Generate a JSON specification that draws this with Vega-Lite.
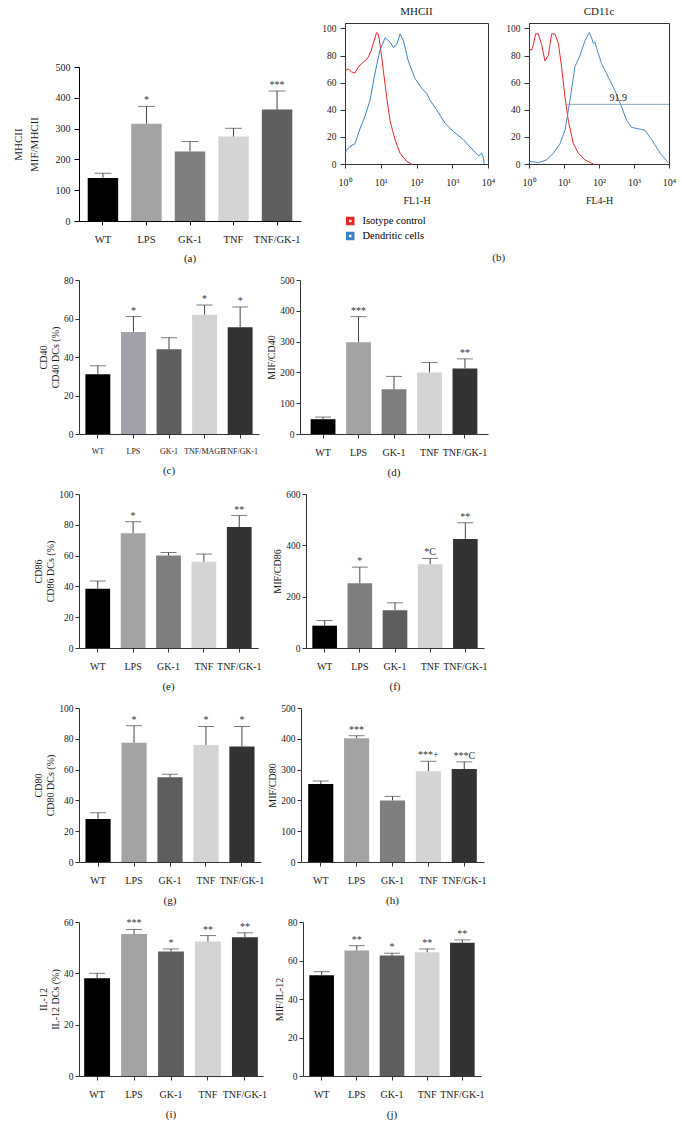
{
"$schema": "https://vega.github.io/schema/vega-lite/v6.json",
"padding": {"left": 12, "top": 5, "right": 5, "bottom": 5},
"datasets": {
"a": [{"g":"WT","v":140,"e":155,"s":""},{"g":"LPS","v":316,"e":372,"s":"*"},{"g":"GK-1","v":226,"e":258,"s":""},{"g":"TNF","v":274,"e":301,"s":""},{"g":"TNF/GK-1","v":362,"e":422,"s":"***"}],
"c": [{"g":"WT","v":31,"e":35.5,"s":""},{"g":"LPS","v":53,"e":61,"s":"*"},{"g":"GK-1","v":44,"e":50,"s":""},{"g":"TNF/MAGE","v":62,"e":67,"s":"*"},{"g":"TNF/GK-1","v":55.5,"e":66,"s":"*"}],
"d": [{"g":"WT","v":48,"e":55,"s":""},{"g":"LPS","v":298,"e":381,"s":"***"},{"g":"GK-1","v":145,"e":187,"s":""},{"g":"TNF","v":200,"e":232,"s":""},{"g":"TNF/GK-1","v":213,"e":244,"s":"**"}],
"e": [{"g":"WT","v":38.5,"e":43.5,"s":""},{"g":"LPS","v":74.5,"e":82,"s":"*"},{"g":"GK-1","v":60,"e":62,"s":""},{"g":"TNF","v":56,"e":61,"s":""},{"g":"TNF/GK-1","v":78.5,"e":86,"s":"**"}],
"f": [{"g":"WT","v":87,"e":107,"s":""},{"g":"LPS","v":252,"e":315,"s":"*"},{"g":"GK-1","v":147,"e":176,"s":""},{"g":"TNF","v":326,"e":349,"s":"*C"},{"g":"TNF/GK-1","v":425,"e":488,"s":"**"}],
"gg": [{"g":"WT","v":28,"e":32,"s":""},{"g":"LPS","v":77.5,"e":88.5,"s":"*"},{"g":"GK-1","v":55,"e":57,"s":""},{"g":"TNF","v":76,"e":88,"s":"*"},{"g":"TNF/GK-1","v":75,"e":88,"s":"*"}],
"h": [{"g":"WT","v":253,"e":263,"s":""},{"g":"LPS","v":402,"e":410,"s":"***"},{"g":"GK-1","v":200,"e":213,"s":""},{"g":"TNF","v":295,"e":327,"s":"***+"},{"g":"TNF/GK-1","v":302,"e":325,"s":"***C"}],
"i": [{"g":"WT","v":38.1,"e":40,"s":""},{"g":"LPS","v":55.3,"e":57.1,"s":"***"},{"g":"GK-1","v":48.5,"e":49.5,"s":"*"},{"g":"TNF","v":52.4,"e":54.7,"s":"**"},{"g":"TNF/GK-1","v":54.1,"e":55.8,"s":"**"}],
"j": [{"g":"WT","v":52.4,"e":54.2,"s":""},{"g":"LPS","v":65.2,"e":67.7,"s":"**"},{"g":"GK-1","v":62.6,"e":63.8,"s":"*"},{"g":"TNF","v":64.3,"e":66,"s":"**"},{"g":"TNF/GK-1","v":69.2,"e":70.7,"s":"**"}],
"hm": [
{"s":"Isotype control","x":1,"y":69},{"s":"Isotype control","x":1.25,"y":70},{"s":"Isotype control","x":1.5,"y":68},{"s":"Isotype control","x":1.9,"y":67},{"s":"Isotype control","x":2.3,"y":71},{"s":"Isotype control","x":2.63,"y":73},{"s":"Isotype control","x":3.24,"y":75},{"s":"Isotype control","x":4,"y":77},{"s":"Isotype control","x":4.5,"y":79},{"s":"Isotype control","x":5.3,"y":83},{"s":"Isotype control","x":6.2,"y":89},{"s":"Isotype control","x":7.7,"y":97},{"s":"Isotype control","x":8.5,"y":96},{"s":"Isotype control","x":9.1,"y":92},{"s":"Isotype control","x":10.5,"y":80},{"s":"Isotype control","x":11.8,"y":69},{"s":"Isotype control","x":14.7,"y":49},{"s":"Isotype control","x":18.2,"y":32},{"s":"Isotype control","x":25,"y":18},{"s":"Isotype control","x":34.6,"y":8},{"s":"Isotype control","x":53,"y":2},{"s":"Isotype control","x":74,"y":0},
{"s":"Dendritic cells","x":1,"y":8},{"s":"Dendritic cells","x":1.1,"y":10},{"s":"Dendritic cells","x":1.38,"y":13},{"s":"Dendritic cells","x":1.9,"y":15},{"s":"Dendritic cells","x":2.63,"y":26},{"s":"Dendritic cells","x":3.6,"y":35},{"s":"Dendritic cells","x":5,"y":47},{"s":"Dendritic cells","x":6.9,"y":67},{"s":"Dendritic cells","x":9.5,"y":84},{"s":"Dendritic cells","x":13.2,"y":93},{"s":"Dendritic cells","x":18.2,"y":90},{"s":"Dendritic cells","x":22.4,"y":86},{"s":"Dendritic cells","x":28,"y":88},{"s":"Dendritic cells","x":34.6,"y":96},{"s":"Dendritic cells","x":43,"y":91},{"s":"Dendritic cells","x":59,"y":76},{"s":"Dendritic cells","x":91,"y":63},{"s":"Dendritic cells","x":139,"y":56},{"s":"Dendritic cells","x":192,"y":52},{"s":"Dendritic cells","x":240,"y":47},{"s":"Dendritic cells","x":365,"y":40},{"s":"Dendritic cells","x":630,"y":30},{"s":"Dendritic cells","x":1070,"y":24},{"s":"Dendritic cells","x":2040,"y":18},{"s":"Dendritic cells","x":3890,"y":10},{"s":"Dendritic cells","x":5500,"y":6},{"s":"Dendritic cells","x":6600,"y":8},{"s":"Dendritic cells","x":7400,"y":5},{"s":"Dendritic cells","x":7800,"y":0}
],
"hc": [
{"s":"Isotype control","x":1,"y":85},{"s":"Isotype control","x":1.19,"y":84},{"s":"Isotype control","x":1.33,"y":88},{"s":"Isotype control","x":1.55,"y":96},{"s":"Isotype control","x":1.85,"y":96},{"s":"Isotype control","x":2.3,"y":88},{"s":"Isotype control","x":2.86,"y":76},{"s":"Isotype control","x":3.57,"y":80},{"s":"Isotype control","x":4.44,"y":96},{"s":"Isotype control","x":5.5,"y":96},{"s":"Isotype control","x":6.9,"y":89},{"s":"Isotype control","x":8.6,"y":71},{"s":"Isotype control","x":10.7,"y":49},{"s":"Isotype control","x":13.3,"y":32},{"s":"Isotype control","x":18.5,"y":15},{"s":"Isotype control","x":25.7,"y":8},{"s":"Isotype control","x":39.8,"y":3},{"s":"Isotype control","x":68.6,"y":0},
{"s":"Dendritic cells","x":1,"y":2},{"s":"Dendritic cells","x":1.85,"y":1},{"s":"Dendritic cells","x":3.2,"y":3},{"s":"Dendritic cells","x":4.95,"y":8},{"s":"Dendritic cells","x":7.7,"y":15},{"s":"Dendritic cells","x":10.7,"y":25},{"s":"Dendritic cells","x":14.8,"y":47},{"s":"Dendritic cells","x":20.6,"y":72},{"s":"Dendritic cells","x":28.6,"y":80},{"s":"Dendritic cells","x":39.8,"y":91},{"s":"Dendritic cells","x":52.8,"y":97},{"s":"Dendritic cells","x":61.6,"y":93},{"s":"Dendritic cells","x":68.6,"y":89},{"s":"Dendritic cells","x":76.6,"y":90},{"s":"Dendritic cells","x":86,"y":85},{"s":"Dendritic cells","x":119,"y":74},{"s":"Dendritic cells","x":185,"y":64},{"s":"Dendritic cells","x":287,"y":54},{"s":"Dendritic cells","x":445,"y":42},{"s":"Dendritic cells","x":620,"y":32},{"s":"Dendritic cells","x":860,"y":27},{"s":"Dendritic cells","x":1330,"y":26},{"s":"Dendritic cells","x":2040,"y":25},{"s":"Dendritic cells","x":3200,"y":18},{"s":"Dendritic cells","x":5560,"y":8},{"s":"Dendritic cells","x":9500,"y":1}
],
"gate": [{"x1":12,"x2":10000,"y":44,"xt":355,"t":"91.9"}]
},
"vconcat": [
{"hconcat": [
 {"vconcat": [
  {"width": 10, "height": 44, "data": {"values": []}, "mark": "point", "encoding": {}},
  {"width": 222, "height": 154, "data": {"name": "a"},
   "title": {"text": "(a)", "orient": "bottom", "offset": 8, "anchor": "middle"},
   "encoding": {"x": {"field": "g", "type": "nominal", "sort": null, "scale": {"paddingInner": 0.3, "paddingOuter": 0.2}, "axis": {"title": null, "labelFontSize": 10.5, "domainColor": "#000", "tickColor": "#000"}}},
   "layer": [
    {"mark": {"type": "bar"}, "encoding": {"y": {"field": "v", "type": "quantitative", "scale": {"domain": [0, 500], "nice": false}, "axis": {"values": [0,100,200,300,400,500], "labelOverlap": false, "title": ["MHCII", "MIF/MHCII"], "titleFontSize": 11, "titleLineHeight": 16, "labelFontSize": 10, "domainColor": "#000", "tickColor": "#000", "titlePadding": 16, "tickSize": 5, "labelPadding": 4}}, "color": {"field": "g", "type": "nominal", "scale": {"domain": ["WT","LPS","GK-1","TNF","TNF/GK-1"], "range": ["#000000","#a3a3a3","#7f7f7f","#d4d4d4","#5f5f5f"]}, "legend": null}}},
    {"mark": {"type": "rule", "color": "#444"}, "encoding": {"y": {"field": "v", "type": "quantitative", "axis": {"values": [0,100,200,300,400,500], "labelOverlap": false, "title": ["MHCII", "MIF/MHCII"], "titleFontSize": 11, "titleLineHeight": 16, "labelFontSize": 10, "domainColor": "#000", "tickColor": "#000", "titlePadding": 16, "tickSize": 5, "labelPadding": 4}}, "y2": {"field": "e"}}},
    {"mark": {"type": "tick", "orient": "horizontal", "size": 17, "thickness": 1, "color": "#444"}, "encoding": {"y": {"field": "e", "type": "quantitative", "axis": {"values": [0,100,200,300,400,500], "labelOverlap": false, "title": ["MHCII", "MIF/MHCII"], "titleFontSize": 11, "titleLineHeight": 16, "labelFontSize": 10, "domainColor": "#000", "tickColor": "#000", "titlePadding": 16, "tickSize": 5, "labelPadding": 4}}}},
    {"mark": {"type": "text", "baseline": "bottom", "dy": -1, "fontSize": 10, "color": "#333"}, "encoding": {"y": {"field": "e", "type": "quantitative", "axis": {"values": [0,100,200,300,400,500], "labelOverlap": false, "title": ["MHCII", "MIF/MHCII"], "titleFontSize": 11, "titleLineHeight": 16, "labelFontSize": 10, "domainColor": "#000", "tickColor": "#000", "titlePadding": 16, "tickSize": 5, "labelPadding": 4}}, "text": {"field": "s"}}}
   ]}
 ], "spacing": 0, "bounds": "flush", "resolve": {"scale": {"color": "independent"}, "legend": {"color": "independent"}}},
 {"hconcat": [
  {"width": 143, "height": 141, "view": {"stroke": "#333"},
   "title": {"text": "MHCII", "offset": 6, "anchor": "middle"},
   "data": {"name": "hm"},
   "mark": {"type": "line", "strokeWidth": 1},
   "encoding": {
    "x": {"field": "x", "type": "quantitative", "scale": {"type": "log", "domain": [1, 10000], "nice": false}, "axis": {"values": [1,10,100,1000,10000], "labelFlush": false, "labelOverlap": false, "labelPadding": 9, "titlePadding": 8, "title": "FL1-H", "labelExpr": "datum.value == 1 ? '10⁰' : datum.value == 10 ? '10¹' : datum.value == 100 ? '10²' : datum.value == 1000 ? '10³' : '10⁴'"}},
    "y": {"field": "y", "type": "quantitative", "scale": {"domain": [0, 104], "nice": false}, "axis": {"values": [0,20,40,60,80,100], "labelOverlap": false, "title": null, "tickSize": 5, "labelPadding": 4}},
    "color": {"field": "s", "type": "nominal", "scale": {"domain": ["Isotype control", "Dendritic cells"], "range": ["#e8262a", "#3a82c6"]}, "legend": {"title": null, "orient": "none", "legendX": 0, "legendY": 192, "symbolType": "square", "symbolSize": 30, "symbolStrokeWidth": 3, "labelFontSize": 10.5, "labelFont": "Liberation Serif", "rowPadding": 3, "clipHeight": 12, "labelOffset": 7}}
   }},
  {"width": 140, "height": 141, "view": {"stroke": "#333"},
   "title": {"text": "CD11c", "offset": 6, "anchor": "middle"},
   "layer": [
    {"data": {"name": "hc"}, "mark": {"type": "line", "strokeWidth": 1},
     "encoding": {
      "x": {"field": "x", "type": "quantitative", "scale": {"type": "log", "domain": [1, 10000], "nice": false}, "axis": {"values": [1,10,100,1000,10000], "labelFlush": false, "labelOverlap": false, "labelPadding": 9, "titlePadding": 8, "title": "FL4-H", "labelExpr": "datum.value == 1 ? '10⁰' : datum.value == 10 ? '10¹' : datum.value == 100 ? '10²' : datum.value == 1000 ? '10³' : '10⁴'"}},
      "y": {"field": "y", "type": "quantitative", "scale": {"domain": [0, 104], "nice": false}, "axis": {"values": [0,20,40,60,80,100], "labelOverlap": false, "title": null, "tickSize": 5, "labelPadding": 4}},
      "color": {"field": "s", "type": "nominal", "scale": {"domain": ["Isotype control", "Dendritic cells"], "range": ["#e8262a", "#4a86c4"]}, "legend": null}
     }},
    {"data": {"name": "gate"}, "mark": {"type": "rule", "color": "#8aa4c0", "strokeWidth": 1},
     "encoding": {"x": {"field": "x1", "type": "quantitative", "axis": {"values": [1,10,100,1000,10000], "labelFlush": false, "labelOverlap": false, "labelPadding": 9, "titlePadding": 8, "title": "FL4-H", "labelExpr": "datum.value == 1 ? '10⁰' : datum.value == 10 ? '10¹' : datum.value == 100 ? '10²' : datum.value == 1000 ? '10³' : '10⁴'"}}, "x2": {"field": "x2"}, "y": {"field": "y", "type": "quantitative", "axis": {"values": [0,20,40,60,80,100], "labelOverlap": false, "title": null, "tickSize": 5, "labelPadding": 4}}}},
    {"data": {"name": "gate"}, "mark": {"type": "text", "baseline": "bottom", "dy": -1, "fontSize": 10, "color": "#222"},
     "encoding": {"x": {"field": "xt", "type": "quantitative", "axis": {"values": [1,10,100,1000,10000], "labelFlush": false, "labelOverlap": false, "labelPadding": 9, "titlePadding": 8, "title": "FL4-H", "labelExpr": "datum.value == 1 ? '10⁰' : datum.value == 10 ? '10¹' : datum.value == 100 ? '10²' : datum.value == 1000 ? '10³' : '10⁴'"}}, "y": {"field": "y", "type": "quantitative", "axis": {"values": [0,20,40,60,80,100], "labelOverlap": false, "title": null, "tickSize": 5, "labelPadding": 4}}, "text": {"field": "t"}}}
   ]}
 ], "spacing": 41, "bounds": "flush", "title": {"text": "(b)", "orient": "bottom", "anchor": "middle", "offset": 9}, "resolve": {"scale": {"color": "independent"}, "legend": {"color": "independent"}}}
], "spacing": 20, "resolve": {"scale": {"color": "independent"}, "legend": {"color": "independent"}}},

{"hconcat": [
 {"width": 180, "height": 154, "data": {"name": "c"},
  "title": {"text": "(c)", "orient": "bottom", "offset": 10, "anchor": "middle"},
  "encoding": {"x": {"field": "g", "type": "nominal", "sort": null, "scale": {"paddingInner": 0.3, "paddingOuter": 0.18}, "axis": {"title": null, "labelFontSize": 8, "encode": {"labels": {"update": {"dx": {"signal": "datum.value == 'TNF/MAGE' ? -4 : datum.value == 'TNF/GK-1' ? 5 : 0"}}}}}}},
  "layer": [
   {"mark": {"type": "bar"}, "encoding": {"y": {"field": "v", "type": "quantitative", "scale": {"domain": [0, 80], "nice": false}, "axis": {"values": [0,20,40,60,80], "labelOverlap": false, "title": ["CD40", "CD40 DCs (%)"]}}, "color": {"field": "g", "type": "nominal", "scale": {"domain": ["WT","LPS","GK-1","TNF/MAGE","TNF/GK-1"], "range": ["#000000","#a1a1a9","#5e5e5e","#d3d3d3","#333333"]}, "legend": null}}},
   {"mark": {"type": "rule", "color": "#444"}, "encoding": {"y": {"field": "v", "type": "quantitative", "axis": {"values": [0,20,40,60,80], "labelOverlap": false, "title": ["CD40", "CD40 DCs (%)"]}}, "y2": {"field": "e"}}},
   {"mark": {"type": "tick", "orient": "horizontal", "size": 16, "thickness": 1, "color": "#444"}, "encoding": {"y": {"field": "e", "type": "quantitative", "axis": {"values": [0,20,40,60,80], "labelOverlap": false, "title": ["CD40", "CD40 DCs (%)"]}}}},
   {"mark": {"type": "text", "baseline": "bottom", "dy": -1, "fontSize": 10, "color": "#333"}, "encoding": {"y": {"field": "e", "type": "quantitative", "axis": {"values": [0,20,40,60,80], "labelOverlap": false, "title": ["CD40", "CD40 DCs (%)"]}}, "text": {"field": "s"}}}
  ]},
 {"width": 188, "height": 154, "data": {"name": "d"},
  "title": {"text": "(d)", "orient": "bottom", "offset": 10, "anchor": "middle"},
  "encoding": {"x": {"field": "g", "type": "nominal", "sort": null, "scale": {"paddingInner": 0.3, "paddingOuter": 0.3}, "axis": {"title": null}}},
  "layer": [
   {"mark": {"type": "bar"}, "encoding": {"y": {"field": "v", "type": "quantitative", "scale": {"domain": [0, 500], "nice": false}, "axis": {"values": [0,100,200,300,400,500], "labelOverlap": false, "title": "MIF/CD40"}}, "color": {"field": "g", "type": "nominal", "scale": {"domain": ["WT","LPS","GK-1","TNF","TNF/GK-1"], "range": ["#000000","#a3a3a3","#7f7f7f","#d4d4d4","#333333"]}, "legend": null}}},
   {"mark": {"type": "rule", "color": "#444"}, "encoding": {"y": {"field": "v", "type": "quantitative", "axis": {"values": [0,100,200,300,400,500], "labelOverlap": false, "title": "MIF/CD40"}}, "y2": {"field": "e"}}},
   {"mark": {"type": "tick", "orient": "horizontal", "size": 16, "thickness": 1, "color": "#444"}, "encoding": {"y": {"field": "e", "type": "quantitative", "axis": {"values": [0,100,200,300,400,500], "labelOverlap": false, "title": "MIF/CD40"}}}},
   {"mark": {"type": "text", "baseline": "bottom", "dy": -1, "fontSize": 10, "color": "#333"}, "encoding": {"y": {"field": "e", "type": "quantitative", "axis": {"values": [0,100,200,300,400,500], "labelOverlap": false, "title": "MIF/CD40"}}, "text": {"field": "s"}}}
  ]}
], "spacing": 41, "bounds": "flush", "resolve": {"scale": {"color": "independent"}, "legend": {"color": "independent"}}},

{"hconcat": [
 {"width": 179, "height": 154, "data": {"name": "e"},
  "title": {"text": "(e)", "orient": "bottom", "offset": 10, "anchor": "middle"},
  "encoding": {"x": {"field": "g", "type": "nominal", "sort": null, "scale": {"paddingInner": 0.3, "paddingOuter": 0.18}, "axis": {"title": null}}},
  "layer": [
   {"mark": {"type": "bar"}, "encoding": {"y": {"field": "v", "type": "quantitative", "scale": {"domain": [0, 100], "nice": false}, "axis": {"values": [0,20,40,60,80,100], "labelOverlap": false, "title": ["CD86", "CD86 DCs (%)"]}}, "color": {"field": "g", "type": "nominal", "scale": {"domain": ["WT","LPS","GK-1","TNF","TNF/GK-1"], "range": ["#000000","#a3a3a3","#7f7f7f","#d4d4d4","#333333"]}, "legend": null}}},
   {"mark": {"type": "rule", "color": "#444"}, "encoding": {"y": {"field": "v", "type": "quantitative", "axis": {"values": [0,20,40,60,80,100], "labelOverlap": false, "title": ["CD86", "CD86 DCs (%)"]}}, "y2": {"field": "e"}}},
   {"mark": {"type": "tick", "orient": "horizontal", "size": 16, "thickness": 1, "color": "#444"}, "encoding": {"y": {"field": "e", "type": "quantitative", "axis": {"values": [0,20,40,60,80,100], "labelOverlap": false, "title": ["CD86", "CD86 DCs (%)"]}}}},
   {"mark": {"type": "text", "baseline": "bottom", "dy": -1, "fontSize": 10, "color": "#333"}, "encoding": {"y": {"field": "e", "type": "quantitative", "axis": {"values": [0,20,40,60,80,100], "labelOverlap": false, "title": ["CD86", "CD86 DCs (%)"]}}, "text": {"field": "s"}}}
  ]},
 {"width": 178, "height": 154, "data": {"name": "f"},
  "title": {"text": "(f)", "orient": "bottom", "offset": 10, "anchor": "middle"},
  "encoding": {"x": {"field": "g", "type": "nominal", "sort": null, "scale": {"paddingInner": 0.3, "paddingOuter": 0.18}, "axis": {"title": null}}},
  "layer": [
   {"mark": {"type": "bar"}, "encoding": {"y": {"field": "v", "type": "quantitative", "scale": {"domain": [0, 600], "nice": false}, "axis": {"values": [0,200,400,600], "labelOverlap": false, "title": "MIF/CD86"}}, "color": {"field": "g", "type": "nominal", "scale": {"domain": ["WT","LPS","GK-1","TNF","TNF/GK-1"], "range": ["#000000","#7f7f7f","#5e5e5e","#d4d4d4","#333333"]}, "legend": null}}},
   {"mark": {"type": "rule", "color": "#444"}, "encoding": {"y": {"field": "v", "type": "quantitative", "axis": {"values": [0,200,400,600], "labelOverlap": false, "title": "MIF/CD86"}}, "y2": {"field": "e"}}},
   {"mark": {"type": "tick", "orient": "horizontal", "size": 16, "thickness": 1, "color": "#444"}, "encoding": {"y": {"field": "e", "type": "quantitative", "axis": {"values": [0,200,400,600], "labelOverlap": false, "title": "MIF/CD86"}}}},
   {"mark": {"type": "text", "baseline": "bottom", "dy": -1, "fontSize": 10, "color": "#333"}, "encoding": {"y": {"field": "e", "type": "quantitative", "axis": {"values": [0,200,400,600], "labelOverlap": false, "title": "MIF/CD86"}}, "text": {"field": "s"}}}
  ]}
], "spacing": 48, "bounds": "flush", "resolve": {"scale": {"color": "independent"}, "legend": {"color": "independent"}}},

{"hconcat": [
 {"width": 182, "height": 154, "data": {"name": "gg"},
  "title": {"text": "(g)", "orient": "bottom", "offset": 10, "anchor": "middle"},
  "encoding": {"x": {"field": "g", "type": "nominal", "sort": null, "scale": {"paddingInner": 0.3, "paddingOuter": 0.18}, "axis": {"title": null}}},
  "layer": [
   {"mark": {"type": "bar"}, "encoding": {"y": {"field": "v", "type": "quantitative", "scale": {"domain": [0, 100], "nice": false}, "axis": {"values": [0,20,40,60,80,100], "labelOverlap": false, "title": ["CD80", "CD80 DCs (%)"]}}, "color": {"field": "g", "type": "nominal", "scale": {"domain": ["WT","LPS","GK-1","TNF","TNF/GK-1"], "range": ["#000000","#a3a3a3","#5e5e5e","#d4d4d4","#333333"]}, "legend": null}}},
   {"mark": {"type": "rule", "color": "#444"}, "encoding": {"y": {"field": "v", "type": "quantitative", "axis": {"values": [0,20,40,60,80,100], "labelOverlap": false, "title": ["CD80", "CD80 DCs (%)"]}}, "y2": {"field": "e"}}},
   {"mark": {"type": "tick", "orient": "horizontal", "size": 16, "thickness": 1, "color": "#444"}, "encoding": {"y": {"field": "e", "type": "quantitative", "axis": {"values": [0,20,40,60,80,100], "labelOverlap": false, "title": ["CD80", "CD80 DCs (%)"]}}}},
   {"mark": {"type": "text", "baseline": "bottom", "dy": -1, "fontSize": 10, "color": "#333"}, "encoding": {"y": {"field": "e", "type": "quantitative", "axis": {"values": [0,20,40,60,80,100], "labelOverlap": false, "title": ["CD80", "CD80 DCs (%)"]}}, "text": {"field": "s"}}}
  ]},
 {"width": 183, "height": 154, "data": {"name": "h"},
  "title": {"text": "(h)", "orient": "bottom", "offset": 10, "anchor": "middle"},
  "encoding": {"x": {"field": "g", "type": "nominal", "sort": null, "scale": {"paddingInner": 0.3, "paddingOuter": 0.2}, "axis": {"title": null}}},
  "layer": [
   {"mark": {"type": "bar"}, "encoding": {"y": {"field": "v", "type": "quantitative", "scale": {"domain": [0, 500], "nice": false}, "axis": {"values": [0,100,200,300,400,500], "labelOverlap": false, "title": "MIF/CD80"}}, "color": {"field": "g", "type": "nominal", "scale": {"domain": ["WT","LPS","GK-1","TNF","TNF/GK-1"], "range": ["#000000","#a3a3a3","#7f7f7f","#d4d4d4","#333333"]}, "legend": null}}},
   {"mark": {"type": "rule", "color": "#444"}, "encoding": {"y": {"field": "v", "type": "quantitative", "axis": {"values": [0,100,200,300,400,500], "labelOverlap": false, "title": "MIF/CD80"}}, "y2": {"field": "e"}}},
   {"mark": {"type": "tick", "orient": "horizontal", "size": 16, "thickness": 1, "color": "#444"}, "encoding": {"y": {"field": "e", "type": "quantitative", "axis": {"values": [0,100,200,300,400,500], "labelOverlap": false, "title": "MIF/CD80"}}}},
   {"mark": {"type": "text", "baseline": "bottom", "dy": -1, "fontSize": 10, "color": "#333"}, "encoding": {"y": {"field": "e", "type": "quantitative", "axis": {"values": [0,100,200,300,400,500], "labelOverlap": false, "title": "MIF/CD80"}}, "text": {"field": "s"}}}
  ]}
], "spacing": 40, "bounds": "flush", "resolve": {"scale": {"color": "independent"}, "legend": {"color": "independent"}}},

{"hconcat": [
 {"width": 184, "height": 154, "data": {"name": "i"},
  "title": {"text": "(i)", "orient": "bottom", "offset": 10, "anchor": "middle"},
  "encoding": {"x": {"field": "g", "type": "nominal", "sort": null, "scale": {"paddingInner": 0.3, "paddingOuter": 0.14}, "axis": {"title": null}}},
  "layer": [
   {"mark": {"type": "bar"}, "encoding": {"y": {"field": "v", "type": "quantitative", "scale": {"domain": [0, 60], "nice": false}, "axis": {"values": [0,20,40,60], "labelOverlap": false, "title": ["IL-12", "IL-12 DCs (%)"]}}, "color": {"field": "g", "type": "nominal", "scale": {"domain": ["WT","LPS","GK-1","TNF","TNF/GK-1"], "range": ["#000000","#a3a3a3","#5e5e5e","#d4d4d4","#333333"]}, "legend": null}}},
   {"mark": {"type": "rule", "color": "#444"}, "encoding": {"y": {"field": "v", "type": "quantitative", "axis": {"values": [0,20,40,60], "labelOverlap": false, "title": ["IL-12", "IL-12 DCs (%)"]}}, "y2": {"field": "e"}}},
   {"mark": {"type": "tick", "orient": "horizontal", "size": 16, "thickness": 1, "color": "#444"}, "encoding": {"y": {"field": "e", "type": "quantitative", "axis": {"values": [0,20,40,60], "labelOverlap": false, "title": ["IL-12", "IL-12 DCs (%)"]}}}},
   {"mark": {"type": "text", "baseline": "bottom", "dy": -1, "fontSize": 10, "color": "#333"}, "encoding": {"y": {"field": "e", "type": "quantitative", "axis": {"values": [0,20,40,60], "labelOverlap": false, "title": ["IL-12", "IL-12 DCs (%)"]}}, "text": {"field": "s"}}}
  ]},
 {"width": 178, "height": 154, "data": {"name": "j"},
  "title": {"text": "(j)", "orient": "bottom", "offset": 10, "anchor": "middle"},
  "encoding": {"x": {"field": "g", "type": "nominal", "sort": null, "scale": {"paddingInner": 0.3, "paddingOuter": 0.18}, "axis": {"title": null}}},
  "layer": [
   {"mark": {"type": "bar"}, "encoding": {"y": {"field": "v", "type": "quantitative", "scale": {"domain": [0, 80], "nice": false}, "axis": {"values": [0,20,40,60,80], "labelOverlap": false, "title": "MIF/IL-12"}}, "color": {"field": "g", "type": "nominal", "scale": {"domain": ["WT","LPS","GK-1","TNF","TNF/GK-1"], "range": ["#000000","#a3a3a3","#5e5e5e","#d4d4d4","#333333"]}, "legend": null}}},
   {"mark": {"type": "rule", "color": "#444"}, "encoding": {"y": {"field": "v", "type": "quantitative", "axis": {"values": [0,20,40,60,80], "labelOverlap": false, "title": "MIF/IL-12"}}, "y2": {"field": "e"}}},
   {"mark": {"type": "tick", "orient": "horizontal", "size": 16, "thickness": 1, "color": "#444"}, "encoding": {"y": {"field": "e", "type": "quantitative", "axis": {"values": [0,20,40,60,80], "labelOverlap": false, "title": "MIF/IL-12"}}}},
   {"mark": {"type": "text", "baseline": "bottom", "dy": -1, "fontSize": 10, "color": "#333"}, "encoding": {"y": {"field": "e", "type": "quantitative", "axis": {"values": [0,20,40,60,80], "labelOverlap": false, "title": "MIF/IL-12"}}, "text": {"field": "s"}}}
  ]}
], "spacing": 40, "bounds": "flush", "resolve": {"scale": {"color": "independent"}, "legend": {"color": "independent"}}}
],
"spacing": 11,
"resolve": {"scale": {"color": "independent"}, "legend": {"color": "independent"}},
"config": {
 "view": {"stroke": null},
 "font": "Liberation Serif",
 "axis": {"grid": false, "labelFont": "Liberation Serif", "titleFont": "Liberation Serif", "labelFontSize": 9.5, "titleFontSize": 10, "titleFontWeight": "normal", "labelColor": "#1a1a1a", "titleColor": "#1a1a1a", "domainColor": "#333", "tickColor": "#333", "tickSize": 4, "labelPadding": 2, "titlePadding": 3, "labelOverlap": false},
 "axisX": {"labelAngle": 0, "labelPadding": 9, "labelOverlap": false, "labelFontSize": 10},
 "title": {"font": "Liberation Serif", "fontSize": 11, "fontWeight": "normal", "color": "#1a1a1a"},
 "legend": {"labelFont": "Liberation Serif"}
}
}
